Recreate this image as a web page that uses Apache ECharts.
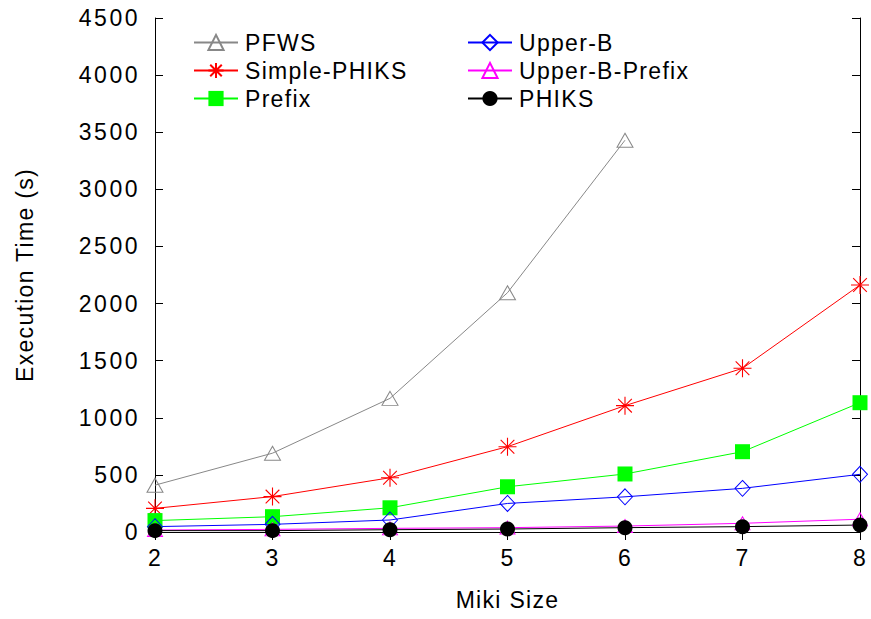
<!DOCTYPE html>
<html><head><meta charset="utf-8">
<script src="https://cdn.jsdelivr.net/npm/echarts@6/dist/echarts.min.js"></script>
<style>
html,body{margin:0;padding:0;background:#fff;}
#chart{width:871px;height:619px;}
#chart text{letter-spacing:1.3px;}
#chart text[text-anchor="end"]{letter-spacing:2.5px;}
</style></head><body><div id="chart"></div>
<script>
const categories = [2, 3, 4, 5, 6, 7, 8];
const seriesNames = ['PFWS', 'Simple-PHIKS', 'Prefix', 'Upper-B', 'Upper-B-Prefix', 'PHIKS'];
const pfws = [410, 690, 1170, 2095, 3430];
const simplePhiks = [207, 310, 475, 747, 1106, 1433, 2163];
const prefix = [100, 134, 212, 396, 508, 703, 1132];
const upperB = [47, 67, 105, 250, 308, 382, 505];
const upperBPrefix = [17, 23, 32, 38, 52, 76, 112];
const phiks = [12, 12, 20, 26, 38, 47, 61];
const yMin = 0, yMax = 4500, yStep = 500;
const xMin = 2, xMax = 8, xStep = 1;

const FONT = 'Liberation Sans';
const FS = 23;
const pairs = arr => arr.map((v, i) => [categories[i], v]);
const asterisk = 'path://M0,5L10,5M5,0L5,10M1.2,1.2L8.8,8.8M8.8,1.2L1.2,8.8';

function mk(name, data, color, symbol, size, filled, extra) {
  return Object.assign({
    name, type: 'line', data: pairs(data), symbol, symbolSize: size,
    showAllSymbol: true, clip: false,
    lineStyle: { color, width: 1 },
    itemStyle: filled ? { color, borderColor: color, borderWidth: 0 }
                      : { color: 'rgba(0,0,0,0)', borderColor: color, borderWidth: 1 },
    emphasis: { disabled: true }
  }, extra || {});
}

const series = [
  mk(seriesNames[0], pfws, '#888888', 'triangle', [16, 14], false),
  mk(seriesNames[1], simplePhiks, '#ff0000', asterisk, 18, false, { itemStyle: { color: 'rgba(0,0,0,0)', borderColor: '#ff0000', borderWidth: 1.1 } }),
  mk(seriesNames[2], prefix, '#00ff00', 'rect', 15, true),
  mk(seriesNames[3], upperB, '#0000ff', 'diamond', [15, 16], false),
  mk(seriesNames[4], upperBPrefix, '#ff00ff', 'triangle', [15, 13], false),
  mk(seriesNames[5], phiks, '#000000', 'circle', 15, true)
];

const axisCommon = {
  axisLine: { show: true, lineStyle: { color: '#000', width: 1 } },
  axisTick: { show: true, inside: true, length: 8, lineStyle: { color: '#000', width: 1 } },
  splitLine: { show: false }
};
const legendCommon = {
  orient: 'vertical', itemWidth: 44, itemHeight: 19, itemGap: 5,
  textStyle: { fontFamily: FONT, fontSize: FS, color: '#000', padding: [0, 0, 0, 2] },
  selectedMode: false
};
const plain = v => String(v);

const chart = echarts.init(document.getElementById('chart'), null, { renderer: 'svg' });
chart.setOption({
  animation: false,
  backgroundColor: '#fff',
  grid: { left: 155, right: 11, top: 18, bottom: 87 },
  legend: [
    Object.assign({}, legendCommon, { left: 188, top: 26, data: seriesNames.slice(0, 3) }),
    Object.assign({}, legendCommon, { left: 462, top: 26, data: seriesNames.slice(3, 6) })
  ],
  xAxis: [
    Object.assign({}, axisCommon, {
      type: 'value', min: xMin, max: xMax, interval: xStep, position: 'bottom',
      name: 'Miki Size', nameLocation: 'middle', nameGap: 56,
      nameTextStyle: { fontFamily: FONT, fontSize: FS, color: '#000' },
      axisLabel: { fontFamily: FONT, fontSize: FS, color: '#000', margin: 14, formatter: plain }
    }),
    Object.assign({}, axisCommon, {
      type: 'value', min: xMin, max: xMax, interval: xStep, position: 'top',
      axisLabel: { show: false }
    })
  ],
  yAxis: [
    Object.assign({}, axisCommon, {
      type: 'value', min: yMin, max: yMax, interval: yStep, position: 'left',
      name: 'Execution Time (s)', nameLocation: 'middle', nameGap: 119,
      nameTextStyle: { fontFamily: FONT, fontSize: FS, color: '#000' },
      axisLabel: { fontFamily: FONT, fontSize: FS, color: '#000', margin: 15, formatter: plain }
    }),
    Object.assign({}, axisCommon, {
      type: 'value', min: yMin, max: yMax, interval: yStep, position: 'right',
      axisLabel: { show: false }
    })
  ],
  series
});
</script></body></html>
